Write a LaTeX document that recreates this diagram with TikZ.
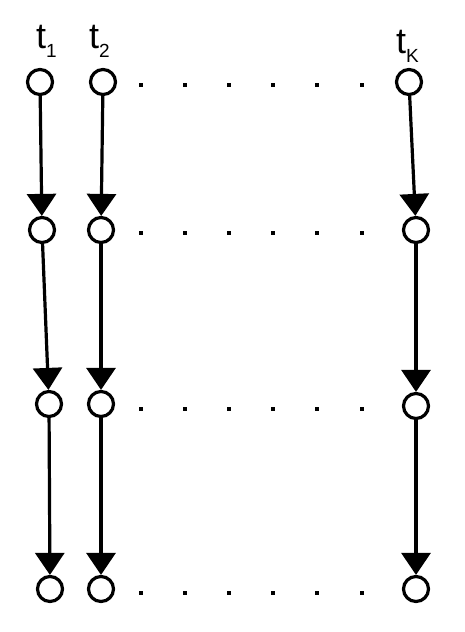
\documentclass[tikz,border=0pt]{standalone}
\usepackage{fontspec}
\setmainfont{Liberation Sans}
\usetikzlibrary{arrows.meta}
\tikzset{
    tnode/.style={draw, circle, line width=3.2pt, minimum size=25pt, inner sep=0pt},
    flow/.style={line width=3.2pt, -{Triangle[width=29pt,length=22pt]}},
    tlabel/.style={anchor=base west, inner sep=0pt},
}
\newcommand{\tsub}[1]{{\fontsize{36}{36}\selectfont t}\raisebox{-9pt}{\fontsize{19}{19}\selectfont #1}}
\begin{document}
\begin{tikzpicture}[x=1pt,y=-1pt]
    \useasboundingbox (0,0) rectangle (465,632);
    \node[tlabel] (lab1) at (36,48) {\tsub{1}};
    \node[tlabel] (lab2) at (89,48) {\tsub{2}};
    \node[tlabel] (labk) at (396,53) {\tsub{K}};
    \node[tnode] (a1) at (40,82) {};
    \node[tnode] (a2) at (42,230) {};
    \node[tnode] (a3) at (49,404) {};
    \node[tnode] (a4) at (50,589) {};
    \node[tnode] (b1) at (103,82) {};
    \node[tnode] (b2) at (101,230) {};
    \node[tnode] (b3) at (101,404) {};
    \node[tnode] (b4) at (101,589) {};
    \node[tnode] (k1) at (409,82) {};
    \node[tnode] (k2) at (416,230) {};
    \node[tnode] (k3) at (416,406) {};
    \node[tnode] (k4) at (416,589) {};
    \draw[flow] (a1) -- (a2);
    \draw[flow] (a2) -- (a3);
    \draw[flow] (a3) -- (a4);
    \draw[flow] (b1) -- (b2);
    \draw[flow] (b2) -- (b3);
    \draw[flow] (b3) -- (b4);
    \draw[flow] (k1) -- (k2);
    \draw[flow] (k2) -- (k3);
    \draw[flow] (k3) -- (k4);
    \foreach \y in {85,233,409,593}
        \foreach \x in {141,185,229,273,317,362}
            \fill (\x-2,\y-2) rectangle (\x+2,\y+2);
\end{tikzpicture}
\end{document}
